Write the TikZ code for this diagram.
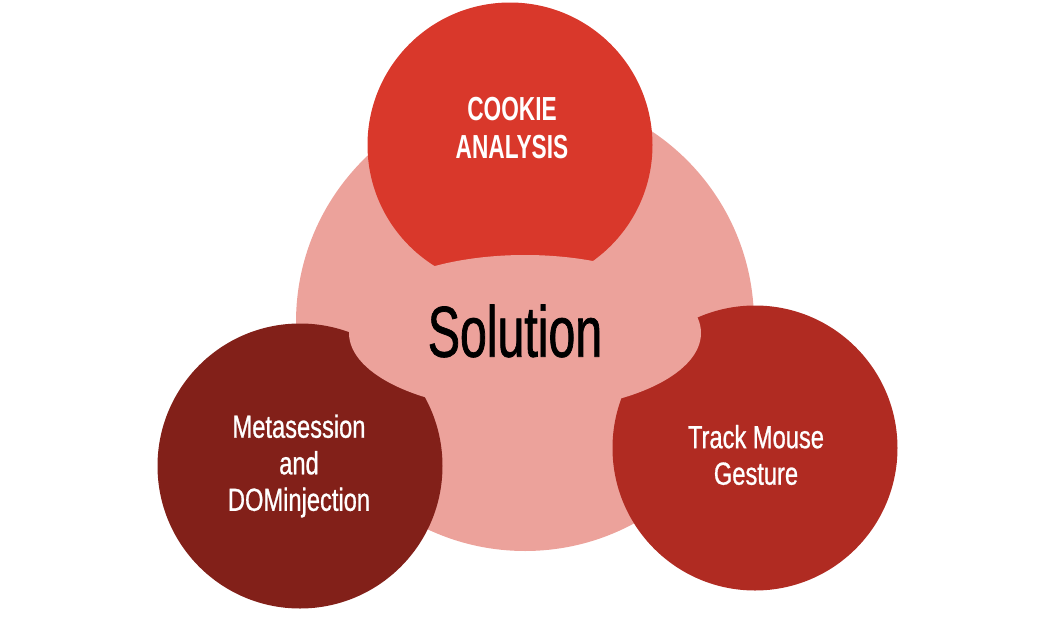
\documentclass[tikz,border=0pt]{standalone}
\usepackage{fontspec}
\setmainfont[FakeStretch=0.68]{Liberation Sans}
\newfontfamily\lblfont[FakeStretch=0.74,FakeBold=0.8]{Liberation Sans}
\newfontfamily\solfont[FakeStretch=0.67,FakeBold=1]{Liberation Sans}
\usetikzlibrary{shapes.geometric}
\definecolor{dpink}{HTML}{ECA29B}
\definecolor{dtop}{HTML}{D9382B}
\definecolor{dleft}{HTML}{822019}
\definecolor{dright}{HTML}{B02B22}
\tikzset{
  dbig/.style={circle, fill=dpink, inner sep=0pt, minimum size=343.5pt},
  dbub/.style={circle, inner sep=0pt, minimum size=213.75pt},
  dcore/.style={ellipse, fill=dpink, inner sep=0pt,
                minimum width=264pt, minimum height=117pt},
  dlbl/.style={white, align=center, font=\lblfont\fontsize{24}{27.4}\selectfont},
  dhead/.style={white, align=center, font=\bfseries\fontsize{25}{27.8}\selectfont},
}
\begin{document}
\begin{tikzpicture}[x=0.75pt,y=-0.75pt]
  \useasboundingbox (0,0) rectangle (1051,618);

  % grosser Kreis
  \node[dbig] (whole) at (525,322) {};

  % drei Blasen
  \node[dbub, fill=dtop]   (cookie) at (510,145) {};
  \node[dbub, fill=dleft]  (meta)   at (300,466) {};
  \node[dbub, fill=dright] (mouse)  at (755,448) {};

  % Mitte
  \node[dcore] (core) at (525,333) {};
  \node[font=\solfont\fontsize{54}{60}\selectfont] (sol) at (515,331) {Solution};

  % Beschriftungen
  \node[dhead] (cookietxt) at (512,128) {COOKIE\\ANALYSIS};
  \node[dlbl]  (metatxt)   at (299,466) {Metasession\\and\\DOMinjection};
  \node[dlbl]  (mousetxt)  at (756,455) {Track Mouse\\Gesture};

\end{tikzpicture}
\end{document}
